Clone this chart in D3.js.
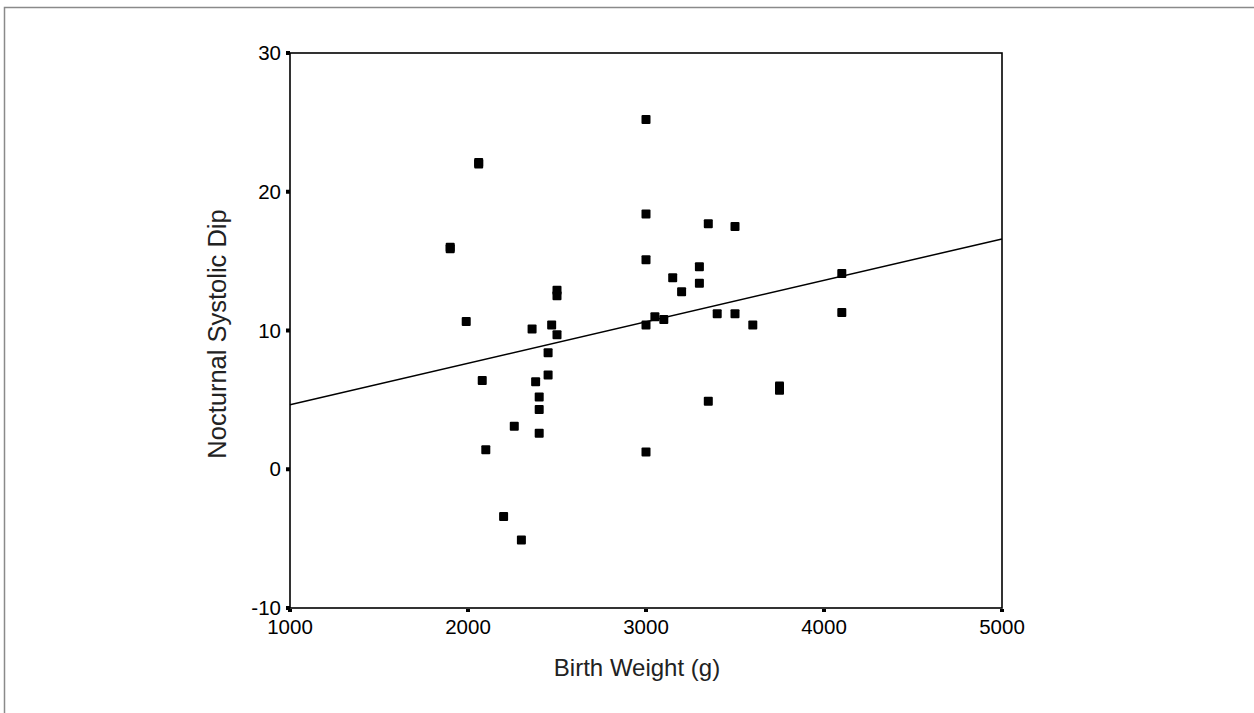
<!DOCTYPE html>
<meta charset="utf-8" />
<style>
  body { margin: 0; background: #fff; }
  text { font-family: "Liberation Sans", Arial, sans-serif; fill: #000; }
  .tick-label { font-size: 20.5px; }
  .axis-title { font-size: 24px; fill: #222; }
</style>
<body>
  <script src="https://d3js.org/d3.v7.min.js"></script>
  <script>
    // data
    var birthWeight = [1900, 1900, 2060, 2060, 1990, 2080, 2100, 2200, 2260, 2300,
      2360, 2380, 2400, 2400, 2400, 2450, 2450, 2470, 2500, 2500, 2500,
      3000, 3000, 3000, 3000, 3000, 3050, 3100, 3150, 3200, 3300, 3300,
      3350, 3350, 3400, 3500, 3500, 3600, 3750, 3750, 4100, 4100];
    var systolicDip = [15.9, 16.0, 22.0, 22.1, 10.65, 6.4, 1.4, -3.4, 3.1, -5.1,
      10.1, 6.3, 5.2, 4.3, 2.6, 8.4, 6.8, 10.4, 12.9, 12.5, 9.7,
      25.2, 18.4, 15.1, 10.4, 1.25, 11.0, 10.8, 13.8, 12.8, 14.6, 13.4,
      17.7, 4.9, 11.2, 17.5, 11.2, 10.4, 6.0, 5.7, 14.1, 11.3];

    // fitted line end points
    var fitX = [1000, 5000];
    var fitY = [4.65, 16.6];

    var xTicks = [1000, 2000, 3000, 4000, 5000];
    var yTicks = [-10, 0, 10, 20, 30];

    var width = 1254, height = 713;
    var plotLeft = 290, plotRight = 1002, plotTop = 53, plotBottom = 608;

    var svg = d3.select('body').append('svg')
      .attr('width', width)
      .attr('height', height);

    // outer frame
    svg.append('path')
      .attr('d', 'M4.5,' + height + 'V7.5H' + width)
      .attr('fill', 'none')
      .attr('stroke', '#8a8a8a')
      .attr('stroke-width', 1.5);

    var x = d3.scaleLinear().domain([1000, 5000]).range([plotLeft, plotRight]);
    var y = d3.scaleLinear().domain([-10, 30]).range([plotBottom, plotTop]);

    // plot box
    svg.append('rect')
      .attr('x', plotLeft).attr('y', plotTop)
      .attr('width', plotRight - plotLeft).attr('height', plotBottom - plotTop)
      .attr('fill', 'none')
      .attr('stroke', '#000')
      .attr('stroke-width', 1.6);

    // regression line
    var line = d3.line()
      .x(function(d, i) { return x(fitX[i]); })
      .y(function(d) { return y(d); });
    svg.append('path')
      .datum(fitY)
      .attr('d', line)
      .attr('fill', 'none')
      .attr('stroke', '#000')
      .attr('stroke-width', 1.5);

    // points
    svg.append('g').selectAll('rect')
      .data(birthWeight)
      .enter().append('rect')
      .attr('x', function(d) { return x(d) - 4.5; })
      .attr('y', function(d, i) { return y(systolicDip[i]) - 4.5; })
      .attr('width', 9).attr('height', 9)
      .attr('rx', 1)
      .attr('fill', '#000');

    // x ticks
    var xg = svg.append('g');
    xg.selectAll('rect').data(xTicks).enter().append('rect')
      .attr('x', function(d) { return x(d) - 2; })
      .attr('y', plotBottom + 1)
      .attr('width', 4).attr('height', 3)
      .attr('fill', '#000');
    xg.selectAll('text').data(xTicks).enter().append('text')
      .attr('class', 'tick-label')
      .attr('x', function(d) { return x(d); })
      .attr('y', plotBottom + 26)
      .attr('text-anchor', 'middle')
      .text(function(d) { return d; });

    // y ticks
    var yg = svg.append('g');
    yg.selectAll('rect').data(yTicks).enter().append('rect')
      .attr('x', plotLeft - 4)
      .attr('y', function(d) { return y(d) - 2; })
      .attr('width', 4).attr('height', 4)
      .attr('fill', '#000');
    yg.selectAll('text').data(yTicks).enter().append('text')
      .attr('class', 'tick-label')
      .attr('x', plotLeft - 9)
      .attr('y', function(d) { return y(d) + 7; })
      .attr('text-anchor', 'end')
      .text(function(d) { return d; });

    // axis titles
    svg.append('text')
      .attr('class', 'axis-title')
      .attr('x', 637)
      .attr('y', 676)
      .attr('text-anchor', 'middle')
      .text('Birth Weight (g)');

    svg.append('text')
      .attr('class', 'axis-title')
      .style('font-size', '25.5px')
      .attr('transform', 'translate(226,334) rotate(-90)')
      .attr('text-anchor', 'middle')
      .text('Nocturnal Systolic Dip');
  </script>
</body>
